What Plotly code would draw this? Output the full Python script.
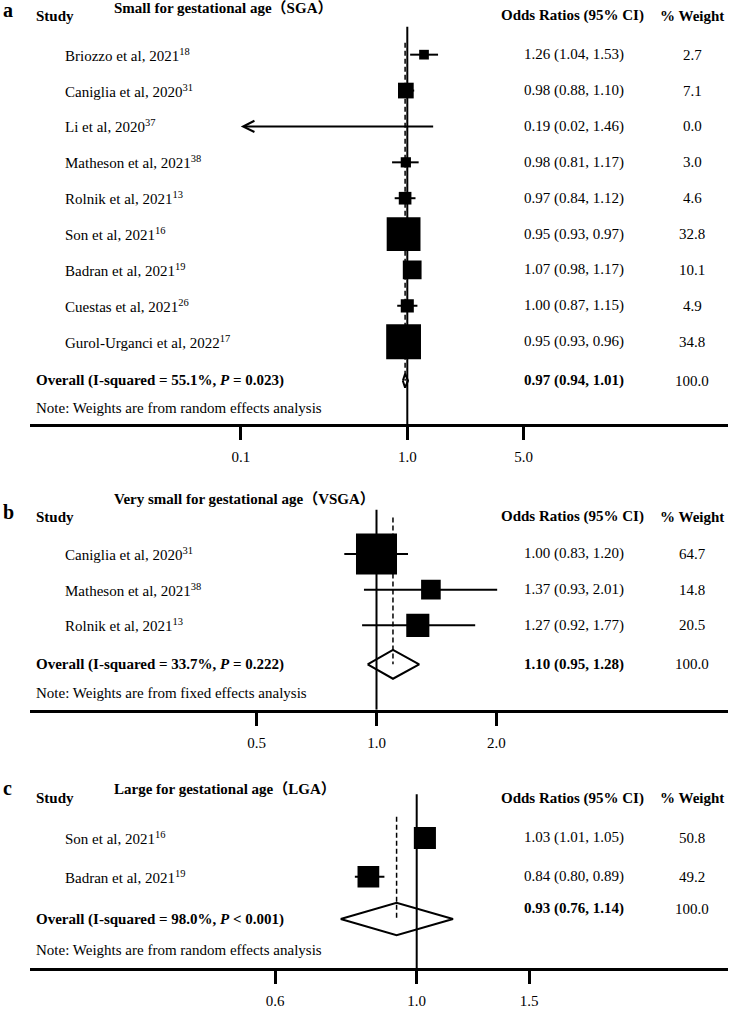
import math
import plotly.graph_objects as go

W, H = 730, 1009
FONT = "Liberation Serif, Times New Roman, Noto Sans CJK SC, serif"

# ---------------- data ----------------
# (a) Small for gestational age
sga_studies = ["Briozzo et al, 2021", "Caniglia et al, 2020", "Li et al, 2020",
               "Matheson et al, 2021", "Rolnik et al, 2021", "Son et al, 2021",
               "Badran et al, 2021", "Cuestas et al, 2021", "Gurol-Urganci et al, 2022"]
sga_refs = ["18", "31", "37", "38", "13", "16", "19", "26", "17"]
sga_or = [1.26, 0.98, 0.19, 0.98, 0.97, 0.95, 1.07, 1.00, 0.95]
sga_lo = [1.04, 0.88, 0.02, 0.81, 0.84, 0.93, 0.98, 0.87, 0.93]
sga_hi = [1.53, 1.10, 1.46, 1.17, 1.12, 0.97, 1.17, 1.15, 0.96]
sga_w = [2.7, 7.1, 0.0, 3.0, 4.6, 32.8, 10.1, 4.9, 34.8]
sga_overall = [0.97, 0.94, 1.01]
sga_i2 = "55.1%"
sga_p = "= 0.023"
sga_model = "random"
sga_ticks = [0.1, 1.0, 5.0]
sga_ticktext = ["0.1", "1.0", "5.0"]

# (b) Very small for gestational age
vsga_studies = ["Caniglia et al, 2020", "Matheson et al, 2021", "Rolnik et al, 2021"]
vsga_refs = ["31", "38", "13"]
vsga_or = [1.00, 1.37, 1.27]
vsga_lo = [0.83, 0.93, 0.92]
vsga_hi = [1.20, 2.01, 1.77]
vsga_w = [64.7, 14.8, 20.5]
vsga_overall = [1.10, 0.95, 1.28]
vsga_i2 = "33.7%"
vsga_p = "= 0.222"
vsga_model = "fixed"
vsga_ticks = [0.5, 1.0, 2.0]
vsga_ticktext = ["0.5", "1.0", "2.0"]

# (c) Large for gestational age
lga_studies = ["Son et al, 2021", "Badran et al, 2021"]
lga_refs = ["16", "19"]
lga_or = [1.03, 0.84]
lga_lo = [1.01, 0.80]
lga_hi = [1.05, 0.89]
lga_w = [50.8, 49.2]
lga_overall = [0.93, 0.76, 1.14]
lga_i2 = "98.0%"
lga_p = "&lt; 0.001"
lga_model = "random"
lga_ticks = [0.6, 1.0, 1.5]
lga_ticktext = ["0.6", "1.0", "1.5"]

# ---------------- layout (pixel geometry) ----------------
panels = [
    dict(letter="a", title="Small for gestational age（SGA）",
         studies=sga_studies, refs=sga_refs, est=sga_or, lo=sga_lo, hi=sga_hi, w=sga_w,
         overall=sga_overall, i2=sga_i2, p=sga_p, model=sga_model,
         ticks=sga_ticks, ticktext=sga_ticktext,
         top_px=0, x_one=407.3, ppd=166.5, row0=55, step=36.1, overall_px=383,
         ovtext_px=383, note_px=410, axis_px=427, solid_top_px=27, dash_top_px=43,
         title_px=8, header_px=16, letter_px=10, size_k=5.9, dia_half=7),
    dict(letter="b", title="Very small for gestational age（VSGA）",
         studies=vsga_studies, refs=vsga_refs, est=vsga_or, lo=vsga_lo, hi=vsga_hi, w=vsga_w,
         overall=vsga_overall, i2=vsga_i2, p=vsga_p, model=vsga_model,
         ticks=vsga_ticks, ticktext=vsga_ticktext,
         top_px=480, x_one=376.5, ppd=398, row0=557.3, step=35.9, overall_px=668.3,
         ovtext_px=668, note_px=697, axis_px=714, solid_top_px=512.7, dash_top_px=520.7,
         title_px=502, header_px=520, letter_px=515, size_k=5.1, dia_half=14.5),
    dict(letter="c", title="Large for gestational age（LGA）",
         studies=lga_studies, refs=lga_refs, est=lga_or, lo=lga_lo, hi=lga_hi, w=lga_w,
         overall=lga_overall, i2=lga_i2, p=lga_p, model=lga_model,
         ticks=lga_ticks, ticktext=lga_ticktext,
         top_px=770, x_one=416.7, ppd=638, row0=843, step=39, overall_px=924.5,
         ovtext_px=914, note_px=956, axis_px=974, solid_top_px=799, dash_top_px=821.7,
         title_px=794, header_px=803, letter_px=793, size_k=3.1, dia_half=16.2),
]

AX_LEFT, AX_RIGHT = 30, 728
NAME_X, LABEL_X, OR_X, W_X, TITLE_X, LETTER_X = 63, 34, 574, 692, 112, 1
OR_HEAD_X, W_HEAD_X = 572, 691.5
FS = 15

fig = go.Figure()
annotations = []
layout = {}


def paper_y(px):
    return 1 - px / H


for i, p in enumerate(panels):
    n = i + 1
    xa = "x" if n == 1 else f"x{n}"
    ya = "y" if n == 1 else f"y{n}"
    step, row0 = p["step"], p["row0"]

    def row_of(px, row0=row0, step=step):
        return (px - row0) / step

    rows = list(range(len(p["studies"])))
    ov_row = row_of(p["overall_px"])
    est, olo, ohi = p["overall"]
    common = dict(xaxis=xa, yaxis=ya, hoverinfo="skip", showlegend=False)

    # null line at OR = 1
    fig.add_trace(go.Scatter(x=[1, 1], y=[row_of(p["solid_top_px"]), row_of(p["axis_px"])],
                             mode="lines", line=dict(color="black", width=2), **common))

    # confidence intervals
    xs, ys = [], []
    xmin = p["ticks"][0]
    for r, lo, hi in zip(rows, p["lo"], p["hi"]):
        if lo < xmin:
            annotations.append(dict(x=math.log10(xmin), y=r, ax=math.log10(hi), ay=r,
                                    xref=xa, yref=ya, axref=xa, ayref=ya, text="",
                                    showarrow=True, arrowhead=5, arrowsize=1.1,
                                    arrowwidth=2, arrowcolor="black", standoff=0))
        else:
            xs += [lo, hi, None]
            ys += [r, r, None]
    fig.add_trace(go.Scatter(x=xs, y=ys, mode="lines",
                             line=dict(color="black", width=2), **common))

    # weight boxes
    fig.add_trace(go.Scatter(x=p["est"], y=rows, mode="markers",
                             marker=dict(symbol="square", color="#000000", opacity=1,
                                         size=[p["size_k"] * math.sqrt(w) for w in p["w"]],
                                         line=dict(width=0)), **common))

    # overall diamond
    h = p["dia_half"] / step
    fig.add_trace(go.Scatter(x=[olo, est, ohi, est, olo],
                             y=[ov_row, ov_row - h, ov_row, ov_row + h, ov_row],
                             mode="lines", line=dict(color="black", width=2), **common))

    # overall estimate dashed line
    fig.add_trace(go.Scatter(x=[est, est], y=[row_of(p["dash_top_px"]), ov_row],
                             mode="lines", line=dict(color="black", width=1.5, dash="5px,3px"),
                             **common))

    # axes
    layout["xaxis" if n == 1 else f"xaxis{n}"] = dict(
        type="log", domain=[AX_LEFT / W, AX_RIGHT / W],
        range=[(AX_LEFT - p["x_one"]) / p["ppd"], (AX_RIGHT - p["x_one"]) / p["ppd"]],
        anchor=ya, showline=True, linecolor="black", linewidth=2.5,
        ticks="outside", ticklen=13, tickwidth=2.5, tickcolor="black",
        tickvals=p["ticks"], ticktext=p["ticktext"], ticklabelstandoff=4,
        tickfont=dict(family=FONT, size=FS, color="black"),
        showgrid=False, zeroline=False, fixedrange=True)
    layout["yaxis" if n == 1 else f"yaxis{n}"] = dict(
        domain=[paper_y(p["axis_px"]), paper_y(p["top_px"])],
        range=[row_of(p["axis_px"]), row_of(p["top_px"])],
        visible=False, fixedrange=True, anchor=xa)

    # text columns
    def txt(text, x, y, yref, xanchor="left", size=FS):
        annotations.append(dict(text=text, x=x / W, y=y, xref="paper", yref=yref,
                                xanchor=xanchor, yanchor="middle", showarrow=False,
                                font=dict(family=FONT, size=size, color="black")))

    for r, name, ref, e, lo, hi, w in zip(rows, p["studies"], p["refs"], p["est"],
                                          p["lo"], p["hi"], p["w"]):
        txt(f"{name}<sup>{ref}</sup>", NAME_X, r, ya)
        txt(f"{e:.2f} ({lo:.2f}, {hi:.2f})", OR_X, r, ya, "center")
        txt(f"{w:.1f}", W_X, r, ya, "center")

    txt(f"<b>Overall (I-squared = {p['i2']}, <i>P</i> {p['p']})</b>", LABEL_X, ov_row, ya)
    txt(f"<b>{est:.2f} ({olo:.2f}, {ohi:.2f})</b>", OR_X, row_of(p["ovtext_px"]), ya, "center")
    txt(f"{100:.1f}", W_X, row_of(p["ovtext_px"]), ya, "center")
    txt(f"Note: Weights are from {p['model']} effects analysis", LABEL_X, row_of(p["note_px"]), ya)

    # headers
    txt(f"<b>{p['letter']}</b>", LETTER_X, paper_y(p["letter_px"]), "paper", size=20)
    txt(f"<b>{p['title']}</b>", TITLE_X, paper_y(p["title_px"]), "paper")
    txt("<b>Study</b>", LABEL_X, paper_y(p["header_px"]), "paper")
    txt("<b>Odds Ratios (95% CI)</b>", OR_HEAD_X, paper_y(p["header_px"]), "paper", "center")
    txt("<b>% Weight</b>", W_HEAD_X, paper_y(p["header_px"]), "paper", "center")

fig.update_layout(width=W, height=H, margin=dict(l=0, r=0, t=0, b=0),
                  paper_bgcolor="white", plot_bgcolor="white", showlegend=False,
                  font=dict(family=FONT, size=FS, color="black"),
                  annotations=annotations, **layout)

fig.write_html("out.html", config={"displayModeBar": False},
               post_script="document.body.style.margin='0';"
                           "document.documentElement.style.overflow='hidden';")
